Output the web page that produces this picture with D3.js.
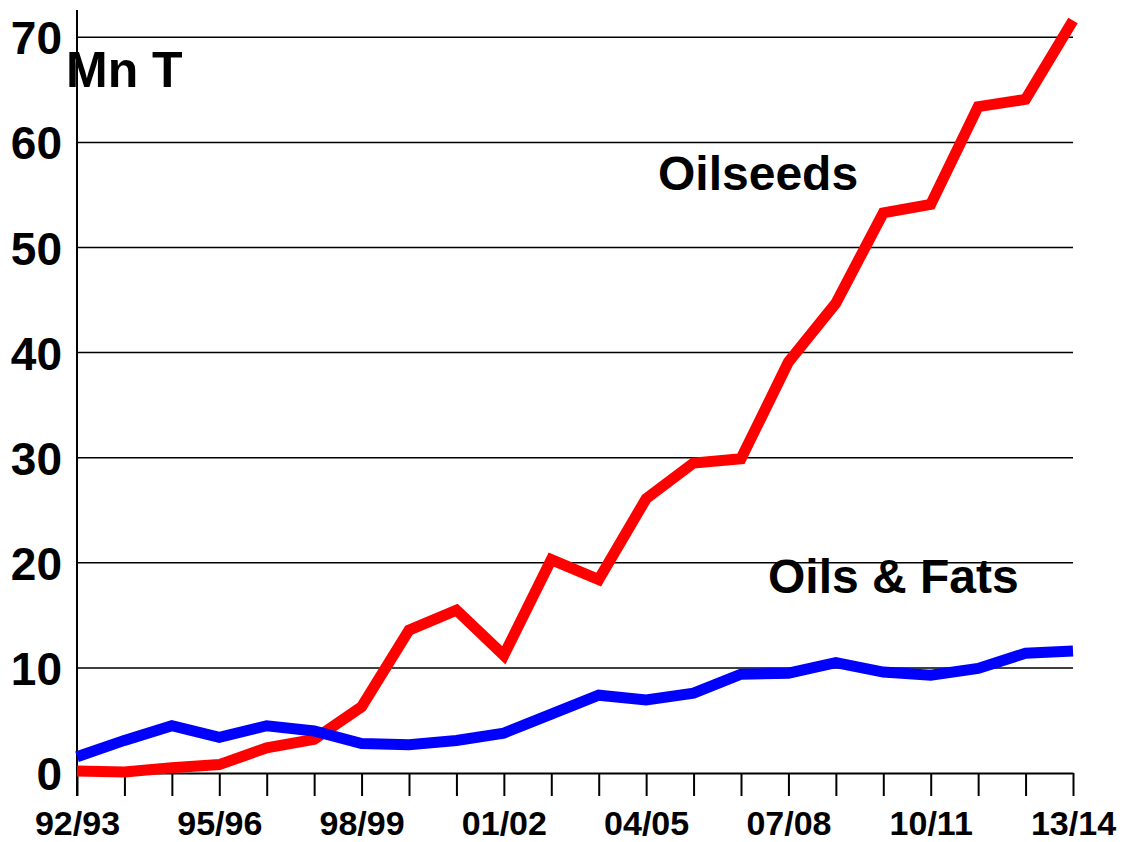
<!DOCTYPE html>
<html lang="en">
<head>
    <meta charset="UTF-8">
    <title>Oilseeds and Oils &amp; Fats</title>
    <script src="https://cdnjs.cloudflare.com/ajax/libs/d3/7.8.5/d3.min.js"></script>
    <style>
        html, body { margin: 0; padding: 0; background: #fff; }
        svg { display: block; font-family: "Liberation Sans", Arial, sans-serif; font-weight: bold; }
    </style>
</head>
<body>
    <svg id="chart" width="1126" height="842"></svg>

    <script>
        // seasons on the x axis
        const seasons = ['92/93', '93/94', '94/95', '95/96', '96/97', '97/98', '98/99', '99/00',
            '00/01', '01/02', '02/03', '03/04', '04/05', '05/06', '06/07', '07/08',
            '08/09', '09/10', '10/11', '11/12', '12/13', '13/14'];
        const xLabels = ['92/93', '95/96', '98/99', '01/02', '04/05', '07/08', '10/11', '13/14'];

        // Mn T
        const oilseeds = [0.2, 0.1, 0.5, 0.8, 2.4, 3.2, 6.3, 13.6, 15.5, 11.2, 20.3, 18.4,
            26.1, 29.5, 29.9, 39.1, 44.7, 53.3, 54.1, 63.4, 64.1, 71.6];
        const oilsFats = [1.55, 3.1, 4.5, 3.4, 4.5, 4.0, 2.8, 2.7, 3.1, 3.8, 5.6, 7.4,
            6.95, 7.6, 9.4, 9.5, 10.5, 9.6, 9.3, 9.95, 11.4, 11.6];
        const yTicks = [0, 10, 20, 30, 40, 50, 60, 70];

        const svg = d3.select('#chart');
        const plotLeft = 77, plotRight = 1073, plotBottom = 773, plotTop = 10;

        const x = d3.scalePoint().domain(seasons).range([plotLeft, plotRight]);
        const y = d3.scaleLinear().domain([0, 72.6]).range([plotBottom, plotTop]);

        // gridlines
        svg.append('g')
            .selectAll('line')
            .data(yTicks.filter(d => d > 0))
            .join('line')
            .attr('x1', plotLeft).attr('x2', plotRight)
            .attr('y1', d => y(d)).attr('y2', d => y(d))
            .attr('stroke', '#000')
            .attr('stroke-width', 1.5);

        // x axis with ticks at every season
        const xAxis = svg.append('g')
            .attr('transform', `translate(0,${plotBottom})`)
            .call(d3.axisBottom(x).tickSize(23).tickSizeOuter(0)
                .tickFormat(d => xLabels.includes(d) ? d : ''));
        xAxis.select('.domain').attr('stroke', '#000').attr('stroke-width', 2);
        xAxis.selectAll('.tick line').attr('stroke', '#000').attr('stroke-width', 2);
        xAxis.selectAll('.tick text')
            .attr('y', 62)
            .attr('dy', 0)
            .attr('fill', '#000')
            .style('font-size', '34px')
            .style('font-weight', 'bold')
            .style('font-family', '"Liberation Sans", Arial, sans-serif');

        // y axis
        const yAxis = svg.append('g')
            .attr('transform', `translate(${plotLeft},0)`)
            .call(d3.axisLeft(y).tickValues(yTicks).tickSize(0).tickPadding(15));
        yAxis.select('.domain').remove();
        yAxis.selectAll('.tick text')
            .attr('fill', '#000')
            .attr('dy', '0.36em')
            .style('font-size', '46px')
            .style('font-weight', 'bold')
            .style('font-family', '"Liberation Sans", Arial, sans-serif');
        svg.append('line')
            .attr('x1', plotLeft).attr('x2', plotLeft)
            .attr('y1', plotTop).attr('y2', plotBottom + 23)
            .attr('stroke', '#000')
            .attr('stroke-width', 2);

        // series
        const line = d3.line()
            .x((d, i) => x(seasons[i]))
            .y(d => y(d));

        const series = [
            { values: oilseeds, color: '#ff0000' },
            { values: oilsFats, color: '#0000ff' }
        ];
        svg.append('g')
            .selectAll('path')
            .data(series)
            .join('path')
            .attr('d', d => line(d.values))
            .attr('fill', 'none')
            .attr('stroke', d => d.color)
            .attr('stroke-width', 11)
            .attr('stroke-linejoin', 'miter')
            .attr('stroke-linecap', 'butt');

        // labels
        svg.append('text')
            .attr('x', 66).attr('y', 87)
            .style('font-size', '50px')
            .text('Mn T');
        svg.append('text')
            .attr('x', 658).attr('y', 190)
            .style('font-size', '48px')
            .text('Oilseeds');
        svg.append('text')
            .attr('x', 768).attr('y', 593)
            .style('font-size', '48px')
            .text('Oils & Fats');
    </script>
</body>
</html>
